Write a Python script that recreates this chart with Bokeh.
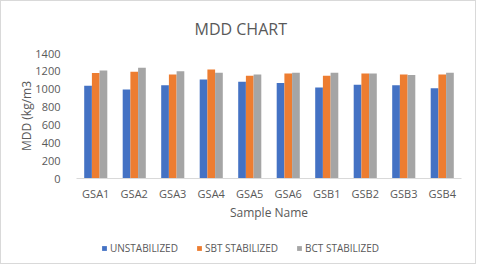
from bokeh.plotting import figure
from bokeh.models import ColumnDataSource, FactorRange, FixedTicker, Legend, LegendItem
from bokeh.layouts import column
from bokeh.transform import dodge
from bokeh.embed import file_html
from bokeh.resources import INLINE

samples = ["GSA1", "GSA2", "GSA3", "GSA4", "GSA5", "GSA6", "GSB1", "GSB2", "GSB3", "GSB4"]
unstabilized = [1038, 997, 1045, 1110, 1085, 1070, 1020, 1050, 1045, 1010]
sbt_stabilized = [1183, 1197, 1165, 1220, 1150, 1175, 1150, 1175, 1165, 1165]
bct_stabilized = [1210, 1240, 1200, 1185, 1165, 1185, 1185, 1175, 1160, 1185]
series_names = ["UNSTABILIZED", "SBT STABILIZED", "BCT STABILIZED"]
y_ticks = [0, 200, 400, 600, 800, 1000, 1200, 1400]

colors = ["#4472C4", "#ED7D31", "#A5A5A5"]
FONT = "Open Sans"
TXT = "#595959"

source = ColumnDataSource(data=dict(
    samples=samples, u=unstabilized, s=sbt_stabilized, b=bct_stabilized))

p = figure(x_range=FactorRange(*samples, range_padding=0), y_range=(0, 1400),
           frame_width=385, frame_height=125,
           min_border_left=75, min_border_right=14, min_border_top=52, min_border_bottom=45,
           output_backend="svg", toolbar_location=None,
           title="MDD CHART")

for col, off, c in zip(["u", "s", "b"], [-0.2, 0.0, 0.2], colors):
    p.vbar(x=dodge("samples", off, range=p.x_range), top=col, width=0.2,
           source=source, color=c, line_color=None)

p.title.align = "left"
p.title.offset = 118
p.title.text_font = FONT
p.title.text_font_size = "16px"
p.title.text_font_style = "normal"
p.title.text_color = TXT
p.title.standoff = 28

p.xgrid.grid_line_color = None
p.ygrid.grid_line_color = None
p.outline_line_color = None

p.yaxis.ticker = FixedTicker(ticks=y_ticks)
p.yaxis.axis_line_color = None
p.yaxis.major_tick_line_color = None
p.yaxis.minor_tick_line_color = None
p.yaxis.major_label_standoff = 10
p.yaxis.axis_label = "MDD (kg/m3"
p.yaxis.axis_label_text_font = FONT
p.yaxis.axis_label_text_font_size = "12px"
p.yaxis.axis_label_text_font_style = "normal"
p.yaxis.axis_label_text_color = TXT
p.yaxis.axis_label_standoff = -3

p.xaxis.axis_line_color = "#d9d9d9"
p.xaxis.major_tick_line_color = None
p.xaxis.minor_tick_line_color = None
p.xaxis.major_label_standoff = 1
p.xaxis.axis_label = "Sample Name"
p.xaxis.axis_label_text_font = FONT
p.xaxis.axis_label_text_font_size = "12px"
p.xaxis.axis_label_text_font_style = "normal"
p.xaxis.axis_label_text_color = TXT
p.xaxis.axis_label_standoff = 0

for ax in (p.xaxis, p.yaxis):
    ax.major_label_text_font = FONT
    ax.major_label_text_font_size = "11px"
    ax.major_label_text_color = TXT

# legend strip below the chart (its bars fall outside its y range, only the swatches show)
p2 = figure(width=474, height=40, x_range=FactorRange(*samples, range_padding=0),
            y_range=(1500, 1600), min_border=0,
            output_backend="svg", toolbar_location=None)
p2.axis.visible = False
p2.xgrid.grid_line_color = None
p2.ygrid.grid_line_color = None
p2.outline_line_color = None

swatches = [p2.vbar(x=dodge("samples", off, range=p2.x_range), top=col, width=0.2,
                    source=source, color=c, line_color=None)
            for col, off, c in zip(["u", "s", "b"], [-0.2, 0.0, 0.2], colors)]

legend = Legend(items=[LegendItem(label=n, renderers=[r]) for n, r in zip(series_names, swatches)],
                orientation="horizontal", location=(25, 8))
legend.label_text_font = FONT
legend.label_text_font_size = "10px"
legend.label_text_color = TXT
legend.glyph_width = 6
legend.glyph_height = 6
legend.label_height = 10
legend.label_standoff = 3
legend.spacing = 18
legend.border_line_color = None
legend.background_fill_alpha = 0
legend.margin = 0
legend.padding = 0
p2.add_layout(legend)

layout = column(p, p2)
layout.styles = {"border": "1px solid #d9d9d9"}

open("out.html", "w").write(file_html(layout, INLINE))
